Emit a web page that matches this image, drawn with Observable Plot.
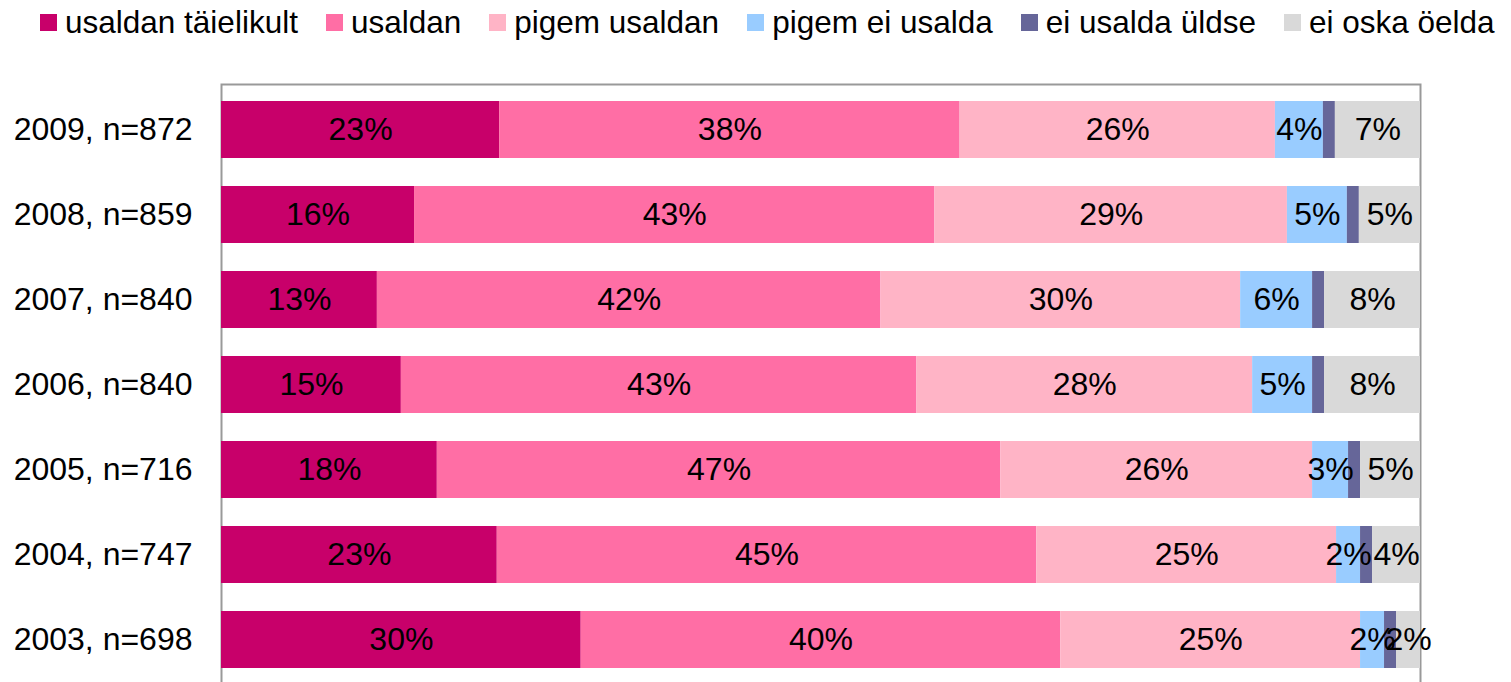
<!DOCTYPE html>
<html><head><meta charset="utf-8">
<script src="https://cdn.jsdelivr.net/npm/d3@7"></script>
<script src="https://cdn.jsdelivr.net/npm/@observablehq/plot@0.6"></script>
<style>
body{margin:0;background:#fff;font-family:"Liberation Sans",Arial,sans-serif;overflow:hidden}
#legend{height:44px;display:flex;align-items:center;padding-left:40px;font-size:31.5px;color:#000;white-space:nowrap}
.item{display:flex;align-items:center;margin-right:28px}
.sw{width:17px;height:17px;margin-right:8px;flex:none}
#chart svg{display:block}
</style></head><body>
<div id="legend"></div><div id="chart"></div>
<script>
const rows = ["2009, n=872","2008, n=859","2007, n=840","2006, n=840","2005, n=716","2004, n=747","2003, n=698"];
const categories = ["usaldan täielikult","usaldan","pigem usaldan","pigem ei usalda","ei usalda üldse","ei oska öelda"];
const colors = ["#C8006A","#FF6EA5","#FFB4C6","#99CCFF","#666699","#D9D9D9"];
const usaldanTaielikult = [23.2,16.1,13,15,18,23,30];
const usaldan          = [38.4,43.4,42,43,47,45,40];
const pigemUsaldan     = [26.3,29.4,30,28,26,25,25];
const pigemEiUsalda    = [4.0,5.0,6,5,3,2,2];
const eiUsaldaUldse    = [1.0,1.0,1,1,1,1,1];
const eiOskaOelda      = [7.1,5.1,8,8,5,4,2];
const series = [usaldanTaielikult,usaldan,pigemUsaldan,pigemEiUsalda,eiUsaldaUldse,eiOskaOelda];

const data = [];
rows.forEach((r,i)=>categories.forEach((c,j)=>data.push({row:r,cat:c,value:series[j][i]})));

const legend = document.getElementById("legend");
categories.forEach((c,j)=>{
  const it=document.createElement("div");it.className="item";
  const sw=document.createElement("div");sw.className="sw";sw.style.background=colors[j];
  const t=document.createElement("span");t.textContent=c;
  it.appendChild(sw);it.appendChild(t);legend.appendChild(it);
});

const chart = Plot.plot({
  width:1511, height:645,
  marginLeft:221, marginRight:91, marginTop:40, marginBottom:5,
  style:{fontFamily:"Liberation Sans, Arial, sans-serif", fontSize:"32px", color:"#000", background:"#fff", overflow:"visible"},
  x:{domain:[0,1], axis:null},
  y:{domain:rows, paddingInner:0.335, paddingOuter:0.1675, label:null, tickSize:0, tickPadding:29},
  color:{domain:categories, range:colors},
  marks:[
    Plot.frame({stroke:"#999", strokeWidth:2}),
    Plot.barX(data, Plot.stackX({x:"value", y:"row", fill:"cat", z:"cat", offset:"normalize", order:null})),
    Plot.text(data, Plot.stackX({x:"value", y:"row", z:"cat", offset:"normalize", order:null,
      text:d=>d.cat==="ei usalda üldse"?null:Math.round(d.value)+"%", fill:"#000", fontSize:32})),
    Plot.axisY({tickSize:0, tickPadding:29, fontSize:32, label:null})
  ]
});
document.getElementById("chart").appendChild(chart);
</script>
</body></html>
